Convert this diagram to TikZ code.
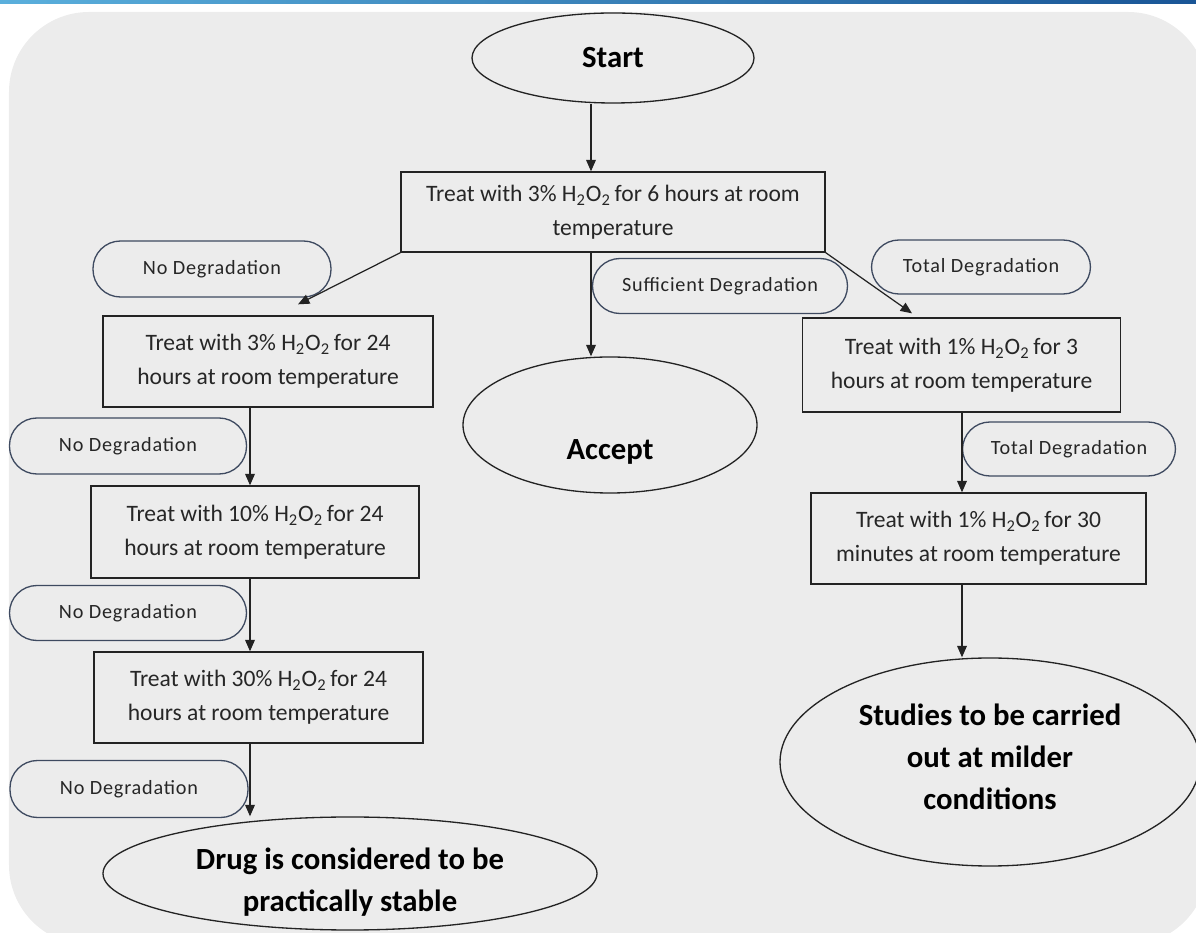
\documentclass[tikz,border=0pt]{standalone}
\usepackage{fontspec}
\setmainfont{Carlito}
\newfontfamily\lblfont[LetterSpace=4]{Carlito}
\usetikzlibrary{arrows.meta, shapes.geometric}
\definecolor{bgGray}{RGB}{236,236,236}
\definecolor{colEdge}{RGB}{35,35,35}
\definecolor{colLbl}{RGB}{62,74,96}
\definecolor{stripL}{RGB}{90,175,220}
\definecolor{stripM}{RGB}{40,160,215}
\definecolor{stripR}{RGB}{25,85,150}
\newcommand{\hho}{H\textsubscript{2}O\textsubscript{2}}

\begin{document}
\begin{tikzpicture}[
  box/.style={rectangle, draw=colEdge, line width=0.75pt, align=center, text=black!85,
              font=\fontsize{13.4}{19.3}\selectfont, inner sep=0pt},
  term/.style={ellipse, draw=colEdge, line width=0.75pt, align=center, inner sep=0pt,
               font=\bfseries\fontsize{17.5}{23.8}\selectfont},
  termtxt/.style={align=center, font=\bfseries\fontsize{17.5}{23.8}\selectfont},
  cond/.style={rectangle, rounded corners=0.55cm, draw=colLbl, line width=0.75pt,
               font=\lblfont\fontsize{11.5}{14}\selectfont, text=black!85},
  arr/.style={-{Triangle[length=6.5pt, width=5.5pt]}, line width=0.7pt, draw=colEdge},
]
\useasboundingbox (0,0) rectangle (23.92,-18.66);
\shade[left color=stripL, middle color=stripM, right color=stripR] (0,0) rectangle (23.92,-0.08);
\fill[bgGray, rounded corners=1.6cm] (0.18,-0.24) rectangle (24.16,-18.9);

\coordinate (lcol) at (5.00,0);
\coordinate (mcol) at (11.82,0);
\coordinate (rcol) at (19.24,0);

% main column
\node[term, minimum width=5.64cm, minimum height=1.80cm] (start) at (12.26,-1.16) {Start};
\node[box, minimum width=8.48cm, minimum height=1.60cm] (treatA) at (12.26,-4.24)
  {Treat with 3\% \hho\,for 6 hours at room\\temperature};
\node[term, minimum width=5.88cm, minimum height=2.72cm,
      label={[termtxt, yshift=-0.54cm]center:Accept}] (accept) at (12.20,-8.50) {};
\node[cond, minimum width=5.10cm, minimum height=1.10cm] (suff) at (14.40,-5.72) {Sufficient Degradation};

% left branch
\node[cond, minimum width=4.76cm, minimum height=1.12cm] (nodeg1) at (4.24,-5.38) {No Degradation};
\node[box, minimum width=6.60cm, minimum height=1.82cm] (treat24) at (5.36,-7.23)
  {Treat with 3\% \hho\,for 24\\hours at room temperature};
\node[cond, minimum width=4.74cm, minimum height=1.12cm] (nodeg2) at (2.56,-8.92) {No Degradation};
\node[box, minimum width=6.56cm, minimum height=1.84cm] (treat10) at (5.10,-10.64)
  {Treat with 10\% \hho\,for 24\\hours at room temperature};
\node[cond, minimum width=4.74cm, minimum height=1.10cm] (nodeg3) at (2.56,-12.26) {No Degradation};
\node[box, minimum width=6.58cm, minimum height=1.82cm] (treat30) at (5.17,-13.95)
  {Treat with 30\% \hho\,for 24\\hours at room temperature};
\node[cond, minimum width=4.76cm, minimum height=1.14cm] (nodeg4) at (2.58,-15.78) {No Degradation};
\node[term, minimum width=9.88cm, minimum height=2.26cm,
      label={[termtxt, yshift=-0.18cm]center:Drug is considered to be\\practically stable}] (drug) at (7.00,-17.47) {};

% right branch
\node[cond, minimum width=4.38cm, minimum height=1.08cm] (total1) at (19.62,-5.34) {Total Degradation};
\node[box, minimum width=6.36cm, minimum height=1.88cm] (treat3h) at (19.23,-7.30)
  {Treat with 1\% \hho\,for 3\\hours at room temperature};
\node[cond, minimum width=4.26cm, minimum height=1.08cm] (total2) at (21.38,-8.98) {Total Degradation};
\node[box, minimum width=6.70cm, minimum height=1.82cm] (treat30m) at (19.57,-10.77)
  {Treat with 1\% \hho\,for 30\\minutes at room temperature};
\node[term, minimum width=8.40cm, minimum height=4.16cm,
      label={[termtxt, yshift=0.1cm]center:Studies to be carried\\out at milder\\conditions}] (studies) at (19.80,-15.24) {};

\draw[arr] (start.south -| mcol) -- (treatA.north -| mcol);
\draw[arr] (treatA.south -| mcol) -- (accept.north -| mcol);
\draw[arr] (treatA.south west) -- ([xshift=0.60cm, yshift=0.22cm]treat24.north);
\draw[arr] (treatA.south east) -- ([xshift=-0.99cm, yshift=0.08cm]treat3h.north);

\draw[arr] (treat24.south -| lcol) -- (treat10.north -| lcol);
\draw[arr] (treat10.south -| lcol) -- (treat30.north -| lcol);
\draw[arr] (treat30.south -| lcol) -- (drug.north -| lcol);

\draw[arr] (treat3h.south -| rcol) -- (treat30m.north -| rcol);
\draw[arr] (treat30m.south -| rcol) -- (studies.north -| rcol);
\end{tikzpicture}
\end{document}
